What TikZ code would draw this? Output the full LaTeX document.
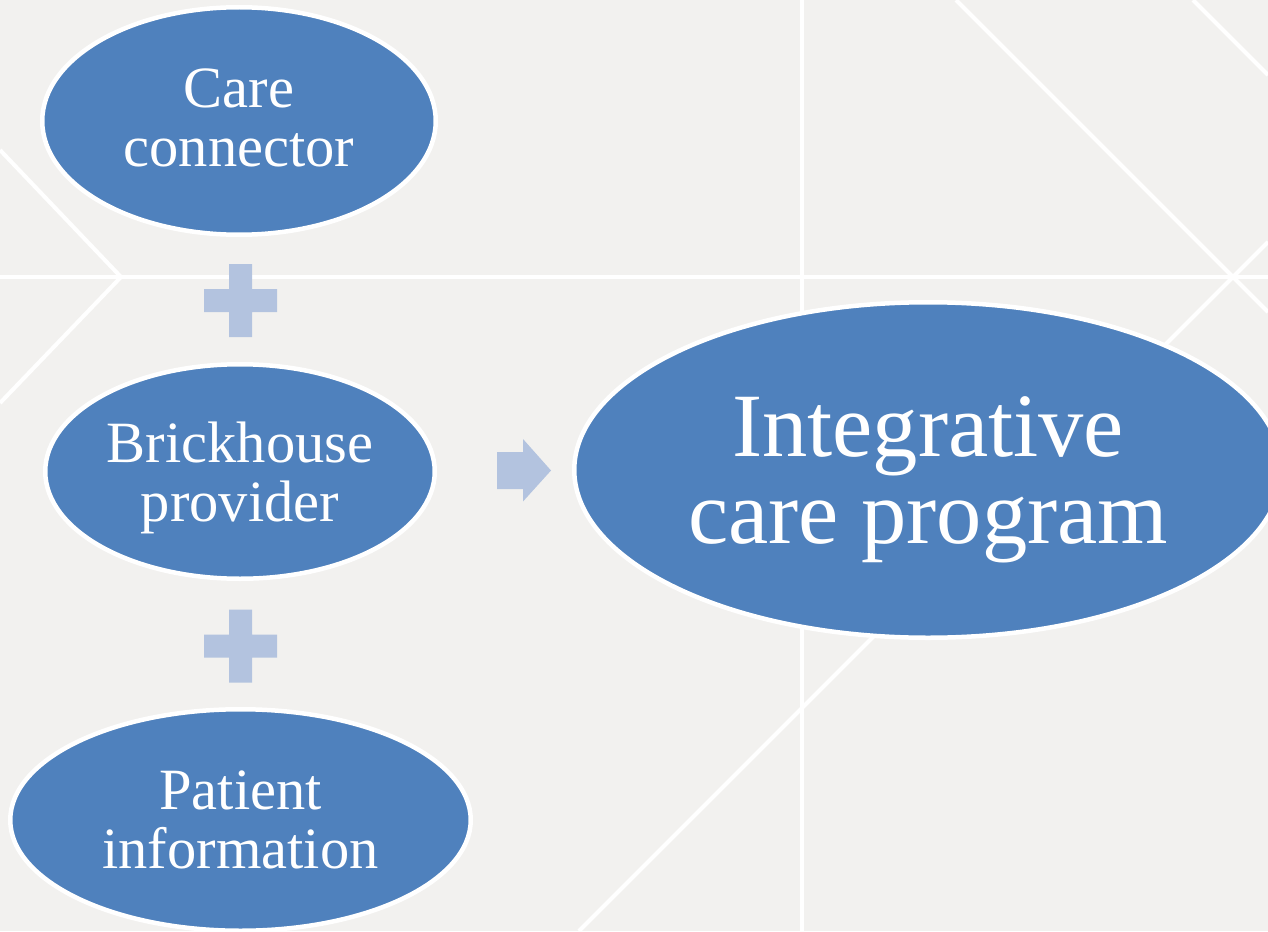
\documentclass[tikz,border=0pt]{standalone}
\usepackage{fontspec}
\setmainfont{Liberation Serif}
\usetikzlibrary{shapes.geometric}
\definecolor{bgcol}{HTML}{F2F1EF}
\definecolor{ellfill}{HTML}{4F81BD}
\definecolor{accent}{HTML}{B3C3DF}
\tikzset{
  bgline/.style={draw=white, line width=4pt},
  ell/.style={ellipse, fill=ellfill, draw=white, line width=4.5pt, inner sep=0pt,
              text=white, align=center, text depth=0pt},
  smalltext/.style={font=\fontsize{58.5}{59}\selectfont},
  bigtext/.style={font=\fontsize{90.5}{87}\selectfont},
  accentfill/.style={fill=accent, draw=none},
}
\begin{document}
\begin{tikzpicture}[x=1pt,y=-1pt]
\useasboundingbox (0,0) rectangle (1268,931);
\fill[bgcol] (0,0) rectangle (1268,931);
\begin{scope}
\clip (0,0) rectangle (1268,931);
% background lines
\draw[bgline] (0,277) -- (1268,277);
\draw[bgline] (802,0) -- (802,931);
\draw[bgline] (0,150) -- (121,277) -- (0,403);
\draw[bgline] (956,0) -- (1268,312);
\draw[bgline] (1193,0) -- (1268,75);
\draw[bgline] (579,931) -- (1268,242);
% ellipses
\node[ell, smalltext, minimum width=393.5pt, minimum height=227.5pt, text depth=6pt] (care) at (239,121) {Care\\connector};
\node[ell, smalltext, minimum width=389.5pt, minimum height=214.5pt] (brick) at (240,471.5) {Brickhouse\\provider};
\node[ell, smalltext, minimum width=460.5pt, minimum height=221.5pt] (patient) at (240.5,820) {Patient\\information};
\node[ell, bigtext, minimum width=707.5pt, minimum height=335.5pt] (icp) at (928,470) {Integrative\\care program};
% plus signs
\coordinate (plusA) at (240.5,300.5);
\coordinate (plusB) at (240.5,646);
\foreach \p in {plusA,plusB}{
  \fill[accentfill] ([shift={(-11.5,-36.5)}]\p) -- ([shift={(11.5,-36.5)}]\p)
     -- ([shift={(11.5,-11.5)}]\p) -- ([shift={(36.5,-11.5)}]\p)
     -- ([shift={(36.5,11.5)}]\p) -- ([shift={(11.5,11.5)}]\p)
     -- ([shift={(11.5,36.5)}]\p) -- ([shift={(-11.5,36.5)}]\p)
     -- ([shift={(-11.5,11.5)}]\p) -- ([shift={(-36.5,11.5)}]\p)
     -- ([shift={(-36.5,-11.5)}]\p) -- ([shift={(-11.5,-11.5)}]\p) -- cycle;
}
% arrow
\coordinate (arr) at (497,470.5);
\fill[accentfill] ([shift={(0,-18.5)}]arr) -- ([shift={(26,-18.5)}]arr)
   -- ([shift={(26,-31.5)}]arr) -- ([shift={(54,0)}]arr)
   -- ([shift={(26,31)}]arr) -- ([shift={(26,18.5)}]arr)
   -- ([shift={(0,18.5)}]arr) -- cycle;
\end{scope}
\end{tikzpicture}
\end{document}
